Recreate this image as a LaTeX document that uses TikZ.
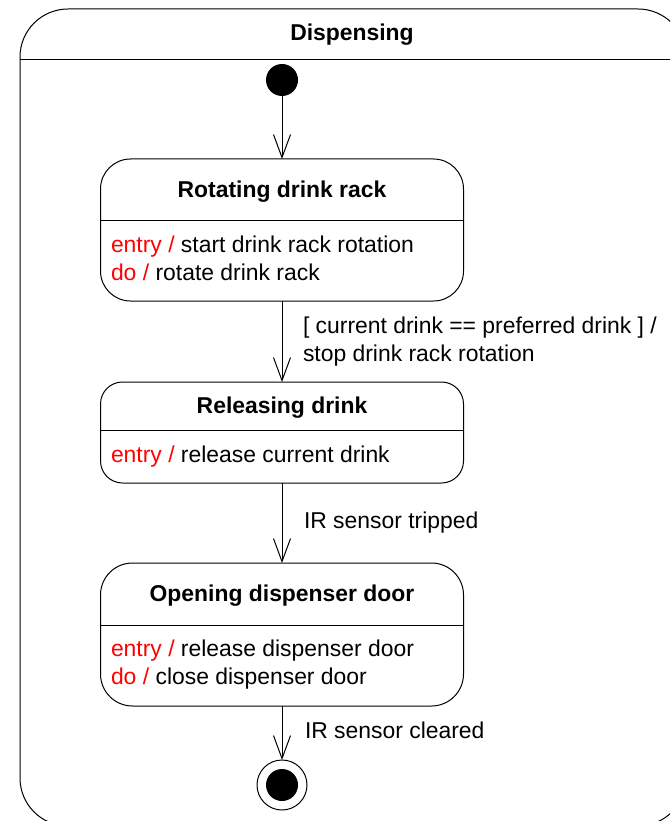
\documentclass[tikz,border=0pt]{standalone}
\usepackage{fontspec}
\setmainfont{Liberation Sans}
\usetikzlibrary{arrows.meta}
\newcommand\actkw[1]{\textcolor{red}{#1}}
\begin{document}
\begin{tikzpicture}[x=1pt,y=-1pt,
  every node/.style={inner sep=0pt, outer sep=0pt, font=\fontsize{22.9}{28}\selectfont},
  frame/.style={draw, line width=1pt},
  statebox/.style={frame, minimum width=363pt},
  titletext/.style={anchor=base, font=\fontsize{22.9}{28}\selectfont\bfseries},
  bodytext/.style={anchor=base west},
  guard/.style={anchor=base west},
  trans/.style={draw, line width=1pt, -{Straight Barb[length=23pt,width=17pt,line width=1pt]}},
]
\useasboundingbox (0,0) rectangle (670,821);
\clip (0,0) rectangle (670,821);

% composite state
\node[frame, rounded corners=48pt, minimum width=666pt, minimum height=817pt] (disp) at (353,417.5) {};
\draw[line width=1pt] (disp.west |- 0,60) -- (disp.east |- 0,60);
\node[titletext] (disptitle) at (352,41) {Dispensing};

% pseudo states
\node[circle, fill=black, minimum size=32pt] (init) at (282,80) {};
\node[circle, frame, minimum size=50pt] (fin) at (282,785) {};
\fill (fin.center) circle (16);

% Rotating drink rack
\node[statebox, rounded corners=30pt, minimum height=142pt] (rot) at (282,230) {};
\draw[line width=1pt] (rot.west |- 0,220) -- (rot.east |- 0,220);
\node[titletext] (rottitle) at (282,197) {Rotating drink rack};
\node[bodytext] (rotentry) at (111,252) {\actkw{entry /} start drink rack rotation};
\node[bodytext] (rotdo) at (111,280) {\actkw{do /} rotate drink rack};

% Releasing drink
\node[statebox, rounded corners=22pt, minimum height=101pt] (rel) at (282,432.5) {};
\draw[line width=1pt] (rel.west |- 0,430) -- (rel.east |- 0,430);
\node[titletext] (reltitle) at (282,413) {Releasing drink};
\node[bodytext] (relentry) at (111,462) {\actkw{entry /} release current drink};

% Opening dispenser door
\node[statebox, rounded corners=32pt, minimum height=143pt] (door) at (282,634.5) {};
\draw[line width=1pt] (door.west |- 0,625) -- (door.east |- 0,625);
\node[titletext] (doortitle) at (282,601) {Opening dispenser door};
\node[bodytext] (doorentry) at (111,656) {\actkw{entry /} release dispenser door};
\node[bodytext] (doordo) at (111,684) {\actkw{do /} close dispenser door};

% transitions
\draw[trans] (init) -- (rot);
\draw[trans] (rot) -- (rel);
\draw[trans] (rel) -- (door);
\draw[trans] (door) -- (fin);

% transition labels
\node[guard] (g1a) at (303,333) {[ current drink == preferred drink ] /};
\node[guard] (g1b) at (303,361) {stop drink rack rotation};
\node[guard] (g2) at (304,528) {IR sensor tripped};
\node[guard] (g3) at (305,738) {IR sensor cleared};
\end{tikzpicture}
\end{document}
